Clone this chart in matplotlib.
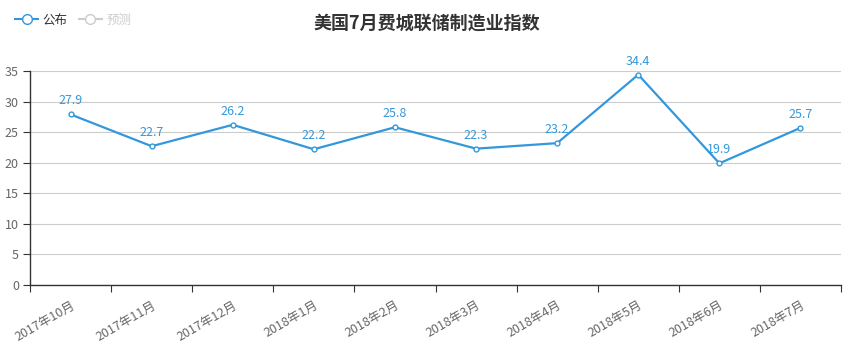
import matplotlib
matplotlib.use("Agg")
import matplotlib.pyplot as plt
from matplotlib.lines import Line2D

plt.rcParams['font.family'] = ['Noto Sans CJK SC', 'DejaVu Sans']

categories = ['2017年10月', '2017年11月', '2017年12月', '2018年1月', '2018年2月',
              '2018年3月', '2018年4月', '2018年5月', '2018年6月', '2018年7月']
published = [27.9, 22.7, 26.2, 22.2, 25.8, 22.3, 23.2, 34.4, 19.9, 25.7]
yticks = [0, 5, 10, 15, 20, 25, 30, 35]

blue = '#3398DB'
fig = plt.figure(figsize=(8.54, 3.55), dpi=100)
ax = fig.add_axes([30/854, 70/355, 811/854, 214/355])

x = [i + 0.5 for i in range(len(categories))]
ax.plot(x, published, color=blue, lw=1.6, marker='o', ms=3.5,
        markerfacecolor='white', markeredgecolor=blue, markeredgewidth=1, zorder=3)
for xi, v in zip(x, published):
    ax.annotate(f'{v}', (xi, v), xytext=(0, 5), textcoords='offset points',
                ha='center', va='bottom', color=blue, fontsize=9)

ax.set_xlim(0, len(categories))
ax.set_ylim(0, 35)
ax.set_yticks(yticks)
ax.set_yticklabels([str(t) for t in yticks], color='#666666', fontsize=9)
ax.set_xticks(range(len(categories) + 1))
ax.set_xticklabels([])
ax.set_xticks(x, minor=True)
ax.set_xticklabels(categories, minor=True, rotation=30, ha='right',
                   rotation_mode='anchor', color='#666666', fontsize=9)
ax.tick_params(axis='x', which='minor', length=0, pad=10)
ax.tick_params(axis='x', which='major', length=5, color='#333333', direction='out')
ax.tick_params(axis='y', length=5, color='#333333', pad=3)

ax.grid(axis='y', color='#cccccc', lw=0.8)
ax.set_axisbelow(True)
for s in ['top', 'right']:
    ax.spines[s].set_visible(False)
for s in ['left', 'bottom']:
    ax.spines[s].set_color('#333333')
    ax.spines[s].set_linewidth(1)

fig.text(0.5, 1 - 23/355, '美国7月费城联储制造业指数', ha='center', va='center',
         fontsize=13, fontweight='bold', color='#333333')

h1 = Line2D([], [], color=blue, lw=1.5, marker='o', ms=7, markerfacecolor='white',
            markeredgecolor=blue)
h2 = Line2D([], [], color='#cccccc', lw=1.5, marker='o', ms=7, markerfacecolor='white',
            markeredgecolor='#cccccc')
leg = fig.legend([h1, h2], ['公布', '预测'], loc='center left',
                 bbox_to_anchor=(4/854, 1 - 20/355), ncol=2, frameon=False,
                 fontsize=9, handlelength=1.8, handletextpad=0.4, columnspacing=0.9)
leg.get_texts()[0].set_color('#333333')
leg.get_texts()[1].set_color('#cccccc')

fig.savefig('out.png', dpi=100)
